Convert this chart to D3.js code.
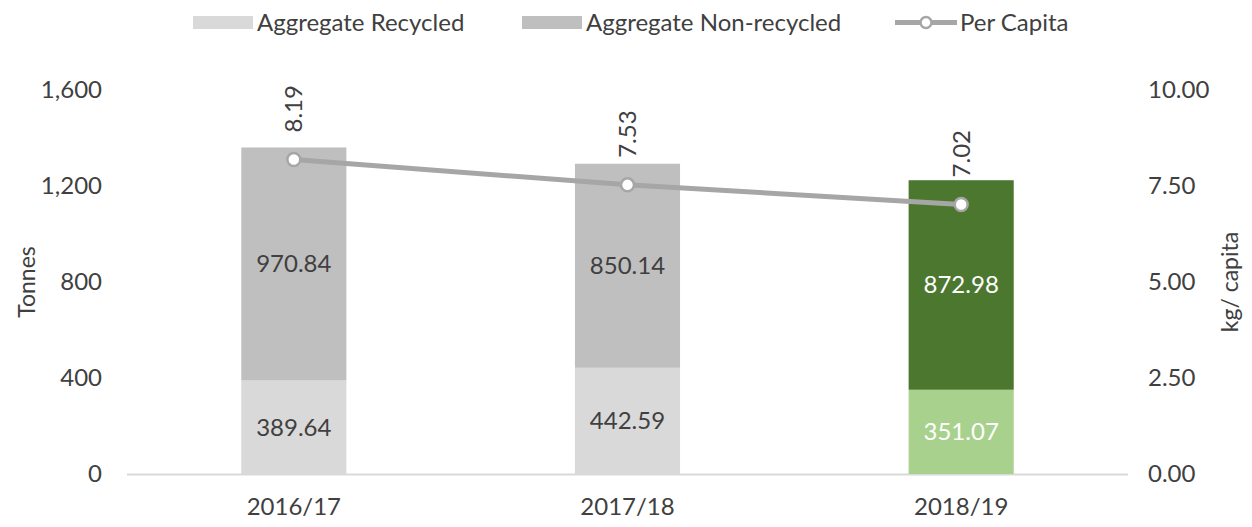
<!DOCTYPE html>
<html>
<head>
<meta charset="utf-8">
<script src="https://cdn.jsdelivr.net/npm/d3@7"></script>
<style>
  body { margin: 0; background: #fff; }
  text { font-family: Lato, "Open Sans", sans-serif; fill: #404040; }
</style>
</head>
<body>
<svg width="1252" height="527"></svg>
<script>
// chart data
var years = ['2016/17', '2017/18', '2018/19'];
var recycled = [389.64, 442.59, 351.07];
var nonRecycled = [970.84, 850.14, 872.98];
var perCapita = [8.19, 7.53, 7.02];
var leftTicks = [0, 400, 800, 1200, 1600];
var rightTicks = [0, 2.5, 5, 7.5, 10];

var svg = d3.select('svg');
// plot edges (note: "top" is reserved on window, so use other names)
var plotL = 127, plotR = 1128, plotT = 90, plotB = 474;

var x = d3.scaleBand().domain(years).range([plotL, plotR]).paddingInner(0.685).paddingOuter(0.3425);
var y = d3.scaleLinear().domain([0, 1600]).range([plotB, plotT]);
var y2 = d3.scaleLinear().domain([0, 10]).range([plotB, plotT]);

// colours: last year is highlighted green
var recColor = function(i) { return i === 2 ? '#a9d18e' : '#d9d9d9'; };
var nonColor = function(i) { return i === 2 ? '#4b772f' : '#bfbfbf'; };

var rows = years.map(function(yr, i) {
  return { year: yr, rec: recycled[i], non: nonRecycled[i], pc: perCapita[i], i: i };
});

// axis baseline
svg.append('line')
  .attr('x1', plotL).attr('x2', plotR)
  .attr('y1', plotB + 0.5).attr('y2', plotB + 0.5)
  .attr('stroke', '#d9d9d9').attr('stroke-width', 2);

// left axis
var leftAxis = d3.axisLeft(y).tickValues(leftTicks).tickSize(0).tickPadding(25).tickFormat(d3.format(','));
svg.append('g').attr('transform', 'translate(' + plotL + ',0)').call(leftAxis)
  .call(function(g) { g.select('.domain').remove(); })
  .selectAll('text').style('font-size', '24px').style('font-family', 'Lato, sans-serif').attr('fill', '#595959');

// right axis
var rightAxis = d3.axisRight(y2).tickValues(rightTicks).tickSize(0).tickPadding(20).tickFormat(d3.format('.2f'));
svg.append('g').attr('transform', 'translate(' + plotR + ',0)').call(rightAxis)
  .call(function(g) { g.select('.domain').remove(); })
  .selectAll('text').style('font-size', '24px').style('font-family', 'Lato, sans-serif').attr('fill', '#595959');

// x axis labels
var xAxis = d3.axisBottom(x).tickSize(0).tickPadding(24);
svg.append('g').attr('transform', 'translate(0,' + plotB + ')').call(xAxis)
  .call(function(g) { g.select('.domain').remove(); })
  .selectAll('text').style('font-size', '24px').style('font-family', 'Lato, sans-serif').attr('fill', '#404040');

// axis titles
svg.append('text').attr('transform', 'translate(27,' + (plotT + plotB) / 2 + ') rotate(-90)')
  .attr('text-anchor', 'middle').attr('dy', '0.35em').style('font-size', '23px').attr('fill', '#595959').text('Tonnes');
svg.append('text').attr('transform', 'translate(1230,' + (plotT + plotB) / 2 + ') rotate(-90)')
  .attr('text-anchor', 'middle').attr('dy', '0.35em').style('font-size', '23px').attr('fill', '#595959').text('kg/ capita');

// stacked bars
var bars = svg.selectAll('.bar').data(rows).enter().append('g').attr('class', 'bar');
bars.append('rect')
  .attr('x', function(d) { return x(d.year); })
  .attr('width', x.bandwidth())
  .attr('y', function(d) { return y(d.rec); })
  .attr('height', function(d) { return y(0) - y(d.rec); })
  .attr('fill', function(d) { return recColor(d.i); });
bars.append('rect')
  .attr('x', function(d) { return x(d.year); })
  .attr('width', x.bandwidth())
  .attr('y', function(d) { return y(d.rec + d.non); })
  .attr('height', function(d) { return y(d.rec) - y(d.rec + d.non); })
  .attr('fill', function(d) { return nonColor(d.i); });

// bar value labels
bars.append('text')
  .attr('x', function(d) { return x(d.year) + x.bandwidth() / 2; })
  .attr('y', function(d) { return (y(0) + y(d.rec)) / 2; })
  .attr('dy', '0.35em').attr('text-anchor', 'middle').style('font-size', '24px')
  .style('fill', function(d) { return d.i === 2 ? '#ffffff' : '#404040'; })
  .text(function(d) { return d.rec.toFixed(2); });
bars.append('text')
  .attr('x', function(d) { return x(d.year) + x.bandwidth() / 2; })
  .attr('y', function(d) { return (y(d.rec) + y(d.rec + d.non)) / 2; })
  .attr('dy', '0.35em').attr('text-anchor', 'middle').style('font-size', '24px')
  .style('fill', function(d) { return d.i === 2 ? '#ffffff' : '#404040'; })
  .text(function(d) { return d.non.toFixed(2); });

// per capita line
var cx = function(d) { return x(d.year) + x.bandwidth() / 2; };
var line = d3.line().x(cx).y(function(d) { return y2(d.pc); });
svg.append('path').datum(rows).attr('d', line)
  .attr('fill', 'none').attr('stroke', '#a6a6a6').attr('stroke-width', 5);
svg.selectAll('.pt').data(rows).enter().append('circle')
  .attr('cx', cx).attr('cy', function(d) { return y2(d.pc); }).attr('r', 6.5)
  .attr('fill', '#fff').attr('stroke', '#a6a6a6').attr('stroke-width', 2.5);
svg.selectAll('.pclabel').data(rows).enter().append('text')
  .attr('transform', function(d) { return 'translate(' + cx(d) + ',' + (y2(d.pc) - 27) + ') rotate(-90)'; })
  .attr('dy', '0.35em').attr('text-anchor', 'start').style('font-size', '24px').attr('fill', '#404040')
  .text(function(d) { return d.pc.toFixed(2); });

// legend
var leg = svg.append('g').attr('class', 'legend');
leg.append('rect').attr('x', 193).attr('y', 16).attr('width', 60).attr('height', 13).attr('fill', '#d9d9d9');
leg.append('text').attr('x', 257).attr('y', 23).attr('dy', '0.35em').style('font-size', '24px').text('Aggregate Recycled');
leg.append('rect').attr('x', 522).attr('y', 16).attr('width', 60).attr('height', 13).attr('fill', '#bfbfbf');
leg.append('text').attr('x', 586).attr('y', 23).attr('dy', '0.35em').style('font-size', '24px').text('Aggregate Non-recycled');
leg.append('line').attr('x1', 895).attr('x2', 957).attr('y1', 22.5).attr('y2', 22.5)
  .attr('stroke', '#a6a6a6').attr('stroke-width', 5);
leg.append('circle').attr('cx', 926).attr('cy', 22.5).attr('r', 5.5)
  .attr('fill', '#fff').attr('stroke', '#a6a6a6').attr('stroke-width', 2.5);
leg.append('text').attr('x', 960).attr('y', 23).attr('dy', '0.35em').style('font-size', '24px').text('Per Capita');
</script>
</body>
</html>
